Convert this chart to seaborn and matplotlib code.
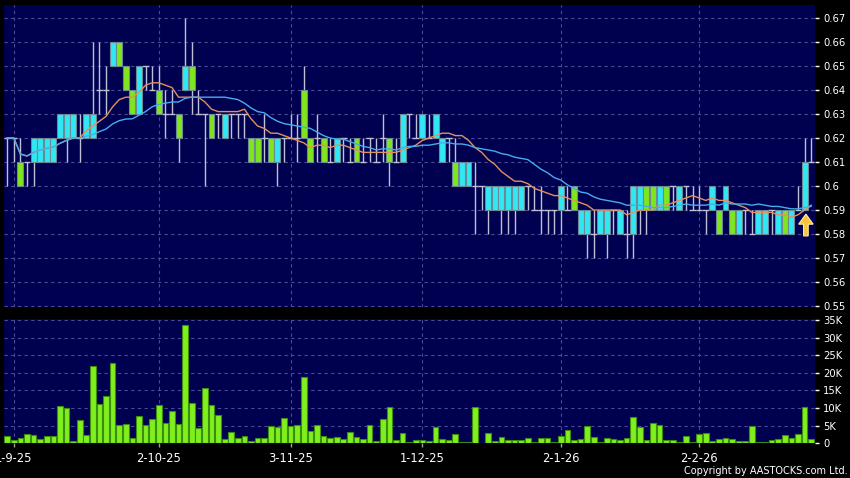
import numpy as np
import pandas as pd
import matplotlib
matplotlib.use("Agg")
import matplotlib.pyplot as plt
import seaborn as sns
from matplotlib.patches import FancyArrow

# ---------------- data (prices in HK$ cents) ----------------
opens = [62,62,61,61,61,61,61,61,62,62, 62,62,62,62,64,64,65,66,65,64,
         63,65,64,64,63,63,63,64,65,63, 63,63,63,62,63,63,63,62,62,62,
         62,61,62,62,62,64,62,62,62,61, 61,62,61,62,61,62,61,62,62,61,
         61,63,62,62,62,62,61,62,61,60, 60,60,60,59,59,59,59,59,59,60,
         59,59,59,59,59,59,60,58,58,58, 58,58,59,58,58,58,59,60,60,59,
         60,60,59,60,59,59,59,59,59,59, 59,58,59,58,58,58,59,58,59,58,
         59,59,61]
highs = [62,62,62,61,62,62,62,62,63,63, 63,63,63,66,66,65,66,66,65,64,
         65,65,65,65,64,64,63,67,66,64, 63,63,63,63,63,63,63,62,62,63,
         62,62,62,63,63,65,62,63,62,62, 62,62,62,62,62,62,62,63,62,62,
         63,63,63,63,63,63,62,62,62,61, 61,61,60,60,60,60,60,60,60,60,
         60,60,59,59,60,60,60,59,59,59, 59,59,59,59,59,60,60,60,60,60,
         60,60,60,60,60,60,59,60,59,60, 59,59,59,59,59,59,59,59,59,59,
         60,62,62]
lows = [60,61,60,60,60,61,61,61,62,61, 62,61,62,62,63,63,65,65,64,63,
        63,64,64,63,62,63,61,64,63,63, 60,62,62,62,62,62,62,61,61,61,
        61,60,61,62,61,62,61,61,61,61, 61,61,61,61,61,61,61,61,60,61,
        61,62,62,62,62,62,61,61,60,60, 60,58,59,58,59,58,58,58,59,59,
        59,58,58,58,58,59,59,58,57,57, 58,57,58,58,57,57,58,58,59,59,
        59,59,59,59,59,59,58,59,58,59, 58,58,58,58,58,58,58,58,58,58,
        59,59,61]
closes = [62,62,60,61,62,62,62,62,63,63, 63,62,63,63,64,64,66,65,64,63,
          65,65,64,63,63,63,62,65,64,63, 63,62,63,63,63,63,63,61,61,62,
          61,62,62,62,62,62,61,62,61,61, 62,62,61,61,61,62,61,62,61,61,
          63,63,62,63,62,63,62,62,60,61, 61,60,60,60,60,60,60,60,60,60,
          59,59,59,59,60,59,59,59,59,58, 59,59,59,59,58,60,60,59,59,60,
          59,60,60,60,59,59,59,60,58,60, 58,59,59,58,59,59,59,59,58,59,
          59,61,61]
volumes_k = [2.1,0.85,1.5,2.6,2.4,1.3,2.2,2.0,10.5,10.0,
             0.6,6.6,2.3,21.9,11.3,13.4,22.8,5.2,5.5,1.5,
             7.8,5.3,6.8,10.8,5.7,9.1,5.4,33.6,11.5,4.3,
             15.7,10.9,7.9,1.1,3.1,1.5,2.0,0.6,1.4,1.6,
             4.9,4.5,7.1,5.0,5.3,18.9,3.5,5.1,2.1,1.5,
             1.8,1.2,3.1,1.9,1.2,5.1,0.7,7.0,10.2,1.0,
             2.9,0.3,0.85,0.95,0.6,4.5,1.2,0.85,2.6,0.3,
             0.3,10.2,0.1,3.0,0.7,1.8,1.0,0.85,0.85,1.5,
             0.4,1.6,1.6,0.5,2.2,3.8,0.95,1.3,4.8,1.9,
             0.4,1.4,1.1,0.85,1.4,7.4,4.7,0.95,5.9,5.1,
             1.0,1.0,0.4,2.1,0.4,2.7,3.0,0.7,1.1,1.4,
             1.2,0.7,0.6,5.0,0.3,0.4,0.95,1.1,2.4,1.5,
             2.7,10.2,1.1]
date_labels = ["1-9-25", "2-10-25", "3-11-25", "1-12-25", "2-1-26", "2-2-26"]
date_bar_index = [1, 23, 43, 63, 84, 105]
price_tick_labels = ["0.55", "0.56", "0.57", "0.58", "0.59", "0.6", "0.61",
                     "0.62", "0.63", "0.64", "0.65", "0.66", "0.67"]
vol_tick_labels = ["0", "5K", "10K", "15K", "20K", "25K", "30K", "35K"]

# ---------------- table ----------------
n = len(closes)
df = pd.DataFrame({
    "i": np.arange(n),
    "open": np.array(opens) / 100.0,
    "high": np.array(highs) / 100.0,
    "low": np.array(lows) / 100.0,
    "close": np.array(closes) / 100.0,
    "vol": np.array(volumes_k) * 1000.0,
})
df["ma10"] = df["close"].rolling(10, min_periods=1).mean()
df["ma20"] = df["close"].rolling(20, min_periods=1).mean()
price_ticks = [float(s) for s in price_tick_labels]
vol_ticks = [int(s.replace("K", "")) * 1000 if s != "0" else 0 for s in vol_tick_labels]

# ---------------- style ----------------
BG = "#000050"
GRID = "#4a4a96"
WICK = "#c0c0d4"
CYAN = "#30e8f4"
GREEN = "#80e61c"
BODY_EDGE = "#6c8a96"
VOL_FACE = "#7ff01e"
VOL_EDGE = "#3c8c10"
ORANGE = "#e3905e"
BLUE = "#46acec"

W, H = 850, 478
fig = plt.figure(figsize=(W / 100, H / 100), dpi=100, facecolor="black")
ax = fig.add_axes([4 / W, 1 - 307 / H, 811 / W, 302 / H], facecolor=BG)
axv = fig.add_axes([4 / W, 1 - 443.3 / H, 811 / W, 124.3 / H], facecolor=BG)

# ---------------- candles ----------------
ax.vlines(df["i"], df["low"], df["high"], color=WICK, lw=1.0, zorder=2)
doji = df[df["open"] == df["close"]]
ax.hlines(doji["close"], doji["i"] - 0.5, doji["i"] + 0.5, color=WICK, lw=1.0, zorder=2)
body = df[df["open"] != df["close"]]
body_colors = [CYAN if c > o else GREEN for o, c in zip(body["open"], body["close"])]
ax.bar(body["i"], (body["close"] - body["open"]).abs(),
       bottom=np.minimum(body["open"], body["close"]), width=0.9,
       color=body_colors, edgecolor=BODY_EDGE, linewidth=0.8, zorder=3)

sns.lineplot(data=df, x="i", y="ma10", color=ORANGE, lw=1.0, ax=ax, zorder=4)
sns.lineplot(data=df, x="i", y="ma20", color=BLUE, lw=1.0, ax=ax, zorder=4)

# up arrow marker at the last signal bar
arr = FancyArrow(121.2, 0.5792, 0, 0.0091, width=0.7, head_width=2.2,
                 head_length=0.0042, length_includes_head=True,
                 fc="#f6c33c", ec="#ffeaa8", lw=0.8, zorder=6)
ax.add_patch(arr)

# ---------------- volume ----------------
sns.barplot(data=df, x="i", y="vol", native_scale=True, width=0.86,
            color=VOL_FACE, saturation=1, edgecolor=VOL_EDGE, linewidth=0.8,
            errorbar=None, ax=axv, zorder=3)

# ---------------- axes cosmetics ----------------
xlim = (-0.49, 122.58)
for a in (ax, axv):
    a.set_xlim(*xlim)
    a.set_xlabel("")
    a.set_ylabel("")
    for s in a.spines.values():
        s.set_visible(False)
    a.yaxis.tick_right()
    a.set_xticks(date_bar_index)
    a.grid(True, color=GRID, lw=0.8, ls=(0, (3, 3)), zorder=0)
    a.set_axisbelow(True)
    a.tick_params(axis="y", which="both", colors="white", length=3, width=1,
                  pad=3, labelsize=7.2, direction="out")

ax.set_ylim(0.5496, 0.6754)
ax.set_yticks(price_ticks)
ax.set_yticklabels(price_tick_labels)
ax.tick_params(axis="x", length=0, labelbottom=False)

axv.set_ylim(0, 35300)
axv.set_yticks(vol_ticks)
axv.set_yticklabels(vol_tick_labels)
axv.set_xticklabels(date_labels)
axv.tick_params(axis="x", colors="#a0a0a0", length=3, width=1, pad=3,
                labelsize=8.3, labelcolor="white")

fig.text(848 / W, 1 - 471 / H, "Copyright by AASTOCKS.com Ltd.",
         color="white", fontsize=7, ha="right", va="center")

fig.savefig("out.png", dpi=100, facecolor="black")
